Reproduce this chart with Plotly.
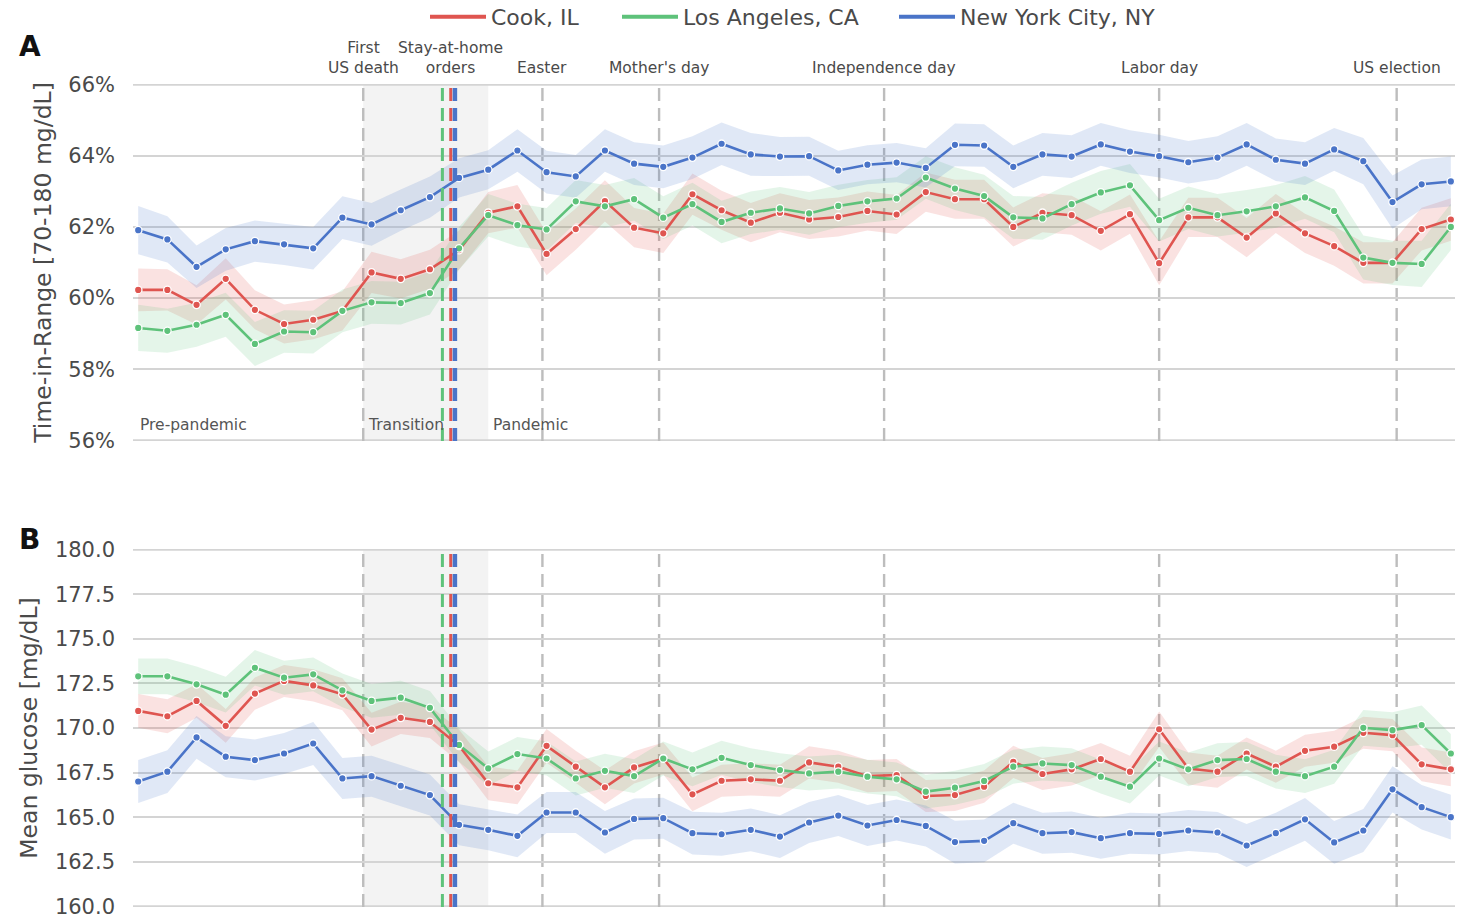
"""
plot.py -- Weekly time-in-range and mean glucose, three US counties, 2020.
"""

import pandas as pd
import plotly.graph_objects as go

# ------------------------------------------------------------------
# Data
# ------------------------------------------------------------------

weeks = pd.date_range("2020-01-06", periods=46, freq="7D")

counties = ["Cook, IL", "Los Angeles, CA", "New York City, NY"]
colors = ["#DF5550", "#5EC27A", "#4A74C8"]

# Panel A: time-in-range [%]
tir_cook = [60.23, 60.23, 59.81, 60.54, 59.67, 59.27, 59.39, 59.64, 60.72, 60.54,
            60.81, 61.35, 62.40, 62.58, 61.24, 61.94, 62.73, 61.98, 61.82, 62.92,
            62.47, 62.12, 62.40, 62.21, 62.28, 62.45, 62.35, 62.98, 62.78, 62.78,
            62.00, 62.40, 62.33, 61.89, 62.36, 60.98, 62.27, 62.27, 61.70, 62.38,
            61.82, 61.46, 60.99, 60.99, 61.94, 62.21]
tir_la = [59.16, 59.08, 59.25, 59.53, 58.71, 59.06, 59.04, 59.64, 59.88, 59.86,
          60.14, 61.40, 62.33, 62.05, 61.93, 62.72, 62.58, 62.78, 62.26, 62.64,
          62.14, 62.40, 62.52, 62.38, 62.59, 62.72, 62.80, 63.39, 63.08, 62.87,
          62.27, 62.24, 62.64, 62.97, 63.17, 62.19, 62.54, 62.33, 62.44, 62.58,
          62.83, 62.45, 61.14, 60.99, 60.96, 62.00]
tir_nyc = [61.91, 61.65, 60.88, 61.37, 61.60, 61.51, 61.40, 62.26, 62.07, 62.47,
           62.84, 63.38, 63.61, 64.15, 63.54, 63.42, 64.15, 63.78, 63.69, 63.95,
           64.34, 64.04, 63.98, 63.99, 63.59, 63.75, 63.81, 63.66, 64.31, 64.29,
           63.69, 64.04, 63.98, 64.32, 64.12, 63.99, 63.82, 63.95, 64.32, 63.89,
           63.78, 64.18, 63.85, 62.70, 63.20, 63.28]

# half-width of the shaded confidence band
tir_cook_ci = [0.60, 0.58, 0.55, 0.58, 0.55, 0.55, 0.55, 0.55, 0.58, 0.55,
               0.55, 0.55, 0.58, 0.60, 0.60, 0.58, 0.58, 0.55, 0.55, 0.58,
               0.55, 0.55, 0.55, 0.55, 0.55, 0.55, 0.55, 0.55, 0.55, 0.55,
               0.55, 0.55, 0.55, 0.55, 0.55, 0.62, 0.55, 0.55, 0.55, 0.55,
               0.55, 0.55, 0.58, 0.58, 0.60, 0.60]
tir_la_ci = [0.65, 0.62, 0.62, 0.62, 0.62, 0.60, 0.60, 0.60, 0.60, 0.60,
             0.60, 0.60, 0.60, 0.60, 0.60, 0.60, 0.60, 0.60, 0.60, 0.60,
             0.60, 0.60, 0.60, 0.60, 0.60, 0.60, 0.60, 0.60, 0.60, 0.60,
             0.60, 0.60, 0.60, 0.60, 0.60, 0.60, 0.60, 0.60, 0.60, 0.60,
             0.60, 0.60, 0.62, 0.62, 0.65, 0.65]
tir_nyc_ci = [0.68, 0.65, 0.60, 0.60, 0.58, 0.58, 0.60, 0.60, 0.60, 0.58,
              0.58, 0.55, 0.55, 0.60, 0.60, 0.60, 0.60, 0.60, 0.60, 0.60,
              0.60, 0.60, 0.55, 0.55, 0.55, 0.55, 0.55, 0.55, 0.60, 0.60,
              0.60, 0.60, 0.60, 0.60, 0.60, 0.60, 0.60, 0.60, 0.60, 0.60,
              0.60, 0.60, 0.65, 0.75, 0.70, 0.70]

# Panel B: mean glucose [mg/dL]
mg_cook = [170.96, 170.66, 171.52, 170.12, 171.93, 172.64, 172.39, 171.89, 169.91, 170.57,
           170.34, 169.00, 166.90, 166.67, 169.00, 167.83, 166.67, 167.79, 168.29, 166.28,
           167.04, 167.12, 167.04, 168.07, 167.83, 167.30, 167.36, 166.19, 166.24, 166.71,
           168.10, 167.42, 167.68, 168.26, 167.55, 169.93, 167.73, 167.55, 168.57, 167.83,
           168.72, 168.95, 169.73, 169.60, 167.96, 167.68]
mg_la = [172.90, 172.90, 172.45, 171.87, 173.38, 172.82, 173.01, 172.11, 171.52, 171.70,
         171.13, 169.05, 167.73, 168.54, 168.29, 167.17, 167.60, 167.30, 168.29, 167.68,
         168.33, 167.92, 167.64, 167.45, 167.55, 167.27, 167.12, 166.43, 166.65, 167.03,
         167.83, 168.01, 167.92, 167.27, 166.71, 168.29, 167.68, 168.20, 168.26, 167.55,
         167.30, 167.83, 170.01, 169.88, 170.16, 168.57]
mg_nyc = [167.00, 167.55, 169.47, 168.39, 168.20, 168.57, 169.13, 167.17, 167.30, 166.76,
          166.24, 164.57, 164.29, 163.95, 165.26, 165.26, 164.14, 164.90, 164.94, 164.10,
          164.04, 164.29, 163.91, 164.70, 165.09, 164.53, 164.84, 164.51, 163.60, 163.67,
          164.66, 164.10, 164.16, 163.82, 164.10, 164.06, 164.25, 164.14, 163.41, 164.10,
          164.88, 163.58, 164.25, 166.56, 165.56, 165.00]

mg_cook_ci = [0.95, 0.95, 0.95, 0.95, 0.90, 0.90, 0.90, 0.90, 0.95, 0.90,
              0.90, 0.90, 0.95, 0.95, 0.95, 0.90, 0.95, 0.90, 0.90, 0.95,
              0.90, 0.90, 0.90, 0.90, 0.90, 0.90, 0.90, 0.90, 0.90, 0.90,
              0.90, 0.90, 0.90, 0.90, 0.90, 1.00, 0.90, 0.90, 0.90, 0.90,
              0.90, 0.90, 0.90, 0.90, 0.95, 0.95]
mg_la_ci = [1.00, 1.00, 1.00, 1.00, 1.00, 0.95, 0.95, 0.95, 0.95, 0.95,
            0.95, 0.95, 0.95, 0.95, 0.95, 0.95, 0.95, 0.95, 0.95, 0.95,
            0.95, 0.95, 0.95, 0.95, 0.95, 0.95, 0.95, 0.95, 0.95, 0.95,
            0.95, 0.95, 0.95, 0.95, 0.95, 0.95, 0.95, 0.95, 0.95, 0.95,
            0.95, 0.95, 1.00, 1.00, 1.10, 1.10]
mg_nyc_ci = [1.20, 1.20, 1.20, 1.15, 1.15, 1.15, 1.20, 1.15, 1.15, 1.15,
             1.15, 1.15, 1.15, 1.20, 1.15, 1.15, 1.20, 1.15, 1.15, 1.20,
             1.20, 1.20, 1.20, 1.15, 1.15, 1.15, 1.15, 1.15, 1.20, 1.20,
             1.15, 1.15, 1.15, 1.15, 1.15, 1.15, 1.15, 1.15, 1.20, 1.15,
             1.20, 1.20, 1.20, 1.30, 1.25, 1.25]

tir_ticks = [56, 58, 60, 62, 64, 66]
tir_ticktext = ["56%", "58%", "60%", "62%", "64%", "66%"]
mg_ticks = [160, 162.5, 165, 167.5, 170, 172.5, 175, 177.5, 180]
mg_ticktext = ["160.0", "162.5", "165.0", "167.5", "170.0",
               "172.5", "175.0", "177.5", "180.0"]

# Events (gray dashed lines)
event_names = ["First<br>US death", "Easter", "Mother's day",
               "Independence day", "Labor day", "US election"]
event_dates = ["2020-02-29", "2020-04-12", "2020-05-10",
               "2020-07-03", "2020-09-07", "2020-11-03"]

# Stay-at-home orders, one per county (same order as counties)
stay_home_dates = ["2020-03-21", "2020-03-19", "2020-03-22"]
stay_home_label_date = "2020-03-21"

transition_start = "2020-02-29"
transition_end = "2020-03-30"

period_names = ["Pre-pandemic", "Transition", "Pandemic"]
period_starts = ["2020-01-06", "2020-02-29", "2020-03-30"]

# ------------------------------------------------------------------
# Figure
# ------------------------------------------------------------------

FONT = "DejaVu Sans"
TEXT = "#4a4a4a"
GRID = "#d4d4d4"
X_RANGE = ["2020-01-04 18:00", "2020-11-17 00:00"]
W, H = 1463, 919


def rgba(hex_color: str, alpha: float) -> str:
    h = hex_color.lstrip("#")
    r, g, b = int(h[0:2], 16), int(h[2:4], 16), int(h[4:6], 16)
    return f"rgba({r},{g},{b},{alpha})"


fig = go.Figure()

panels = [
    ("x", "y", [tir_cook, tir_la, tir_nyc], [tir_cook_ci, tir_la_ci, tir_nyc_ci]),
    ("x2", "y2", [mg_cook, mg_la, mg_nyc], [mg_cook_ci, mg_la_ci, mg_nyc_ci]),
]

x_list = list(weeks)
for xa, ya, series, cis in panels:
    # bands first, then lines on top
    for vals, ci, col in zip(series, cis, colors):
        upper = [v + c for v, c in zip(vals, ci)]
        lower = [v - c for v, c in zip(vals, ci)]
        fig.add_trace(go.Scatter(
            x=x_list + x_list[::-1], y=upper + lower[::-1],
            xaxis=xa, yaxis=ya, fill="toself", fillcolor=rgba(col, 0.17),
            line=dict(width=0), mode="lines", hoverinfo="skip", showlegend=False,
        ))
    for vals, col, name in zip(series, colors, counties):
        fig.add_trace(go.Scatter(
            x=x_list, y=vals, xaxis=xa, yaxis=ya, name=name,
            mode="lines+markers",
            line=dict(color=col, width=2.6),
            marker=dict(size=7.5, color=col, line=dict(color="white", width=1.3)),
            showlegend=False,
        ))

# legend-only entries (plain lines, no markers), one legend box each so the
# spacing between entries can follow the reference
legend_ids = ["legend", "legend2", "legend3"]
legend_left_px = [425, 617, 894]
for col, name, lid in zip(colors, counties, legend_ids):
    fig.add_trace(go.Scatter(
        x=[None], y=[None], mode="lines", name=name, legend=lid,
        line=dict(color=col, width=4),
    ))

# shaded transition period + event lines in both panels
for xa, ya, lims in [("x", "y", [56, 66]), ("x2", "y2", [160, 180])]:
    fig.add_shape(
        type="rect", xref=xa, yref=f"{ya} domain",
        x0=transition_start, x1=transition_end, y0=0, y1=1,
        fillcolor="#f3f3f3", line_width=0, layer="below",
    )
    # grid lines on the panel edges (plotly drops them at the range limits)
    for v in lims:
        fig.add_shape(
            type="line", xref=f"{xa} domain", yref=ya,
            x0=0, x1=1, y0=v, y1=v,
            line=dict(color=GRID, width=2), layer="below",
        )
    for d in event_dates:
        fig.add_shape(
            type="line", xref=xa, yref=f"{ya} domain",
            x0=d, x1=d, y0=0, y1=1,
            line=dict(color="#bdbdbd", width=2.4, dash="13px,7px"),
            layer="below",
        )
    for d, col, w in zip(stay_home_dates, colors, [3, 3, 4.5]):
        fig.add_shape(
            type="line", xref=xa, yref=f"{ya} domain",
            x0=d, x1=d, y0=0, y1=1,
            line=dict(color=col, width=w, dash="13px,7px"),
            layer="above",
        )

# event labels above panel A
for name, d in zip(event_names + ["Stay-at-home<br>orders"],
                   event_dates + [stay_home_label_date]):
    fig.add_annotation(
        x=d, xref="x", y=1, yref="y domain",
        text=name, showarrow=False, xanchor="center", yanchor="bottom",
        yshift=5, font=dict(family=FONT, size=15.5, color=TEXT),
    )

# period labels inside panel A
for name, d, dx in zip(period_names, period_starts, [0, 3, 3]):
    fig.add_annotation(
        x=d, xref="x", y=0.045, yref="y domain",
        text=name, showarrow=False, xanchor="left", yanchor="middle",
        xshift=dx, font=dict(family=FONT, size=15.5, color="#555555"),
    )

# panel letters
for letter, yy in [("A", 1.045), ("B", 0.446)]:
    fig.add_annotation(
        text=f"<b>{letter}</b>", xref="paper", yref="paper",
        x=-0.078, y=yy, xanchor="center", yanchor="middle",
        showarrow=False, font=dict(family=FONT, size=28, color="#111111"),
    )

axis_common = dict(
    showgrid=True, gridcolor=GRID, gridwidth=2, zeroline=False,
    showline=False, ticks="", tickfont=dict(family=FONT, size=21, color=TEXT),
    ticklabelstandoff=17, automargin=False,
)
x_common = dict(
    type="date", range=X_RANGE, showgrid=False, zeroline=False,
    showline=False, showticklabels=False, ticks="", automargin=False,
)

legend_layout = {}
for lid, px in zip(legend_ids, legend_left_px):
    legend_layout[lid] = dict(
        orientation="h", xref="container", x=px / W, xanchor="left",
        yref="container", y=(H - 17) / H, yanchor="middle",
        font=dict(family=FONT, size=22, color=TEXT),
        itemwidth=56, bgcolor="rgba(0,0,0,0)",
    )

fig.update_layout(
    width=W, height=H,
    paper_bgcolor="white", plot_bgcolor="white",
    margin=dict(l=133, r=8, t=84, b=12),
    font=dict(family=FONT, color=TEXT),
    xaxis=dict(domain=[0, 1], anchor="y", **x_common),
    xaxis2=dict(domain=[0, 1], anchor="y2", matches="x", **x_common),
    yaxis=dict(
        domain=[0.5662, 1], anchor="x", range=[55.98, 66.02],
        tickvals=tir_ticks, ticktext=tir_ticktext,
        title=dict(text="Time-in-Range [70-180 mg/dL]", standoff=10,
                   font=dict(family=FONT, size=23.5, color=TEXT)),
        **axis_common,
    ),
    yaxis2=dict(
        domain=[0, 0.435], anchor="x2", range=[159.96, 180.04],
        tickvals=mg_ticks, ticktext=mg_ticktext,
        title=dict(text="Mean glucose [mg/dL]", standoff=10,
                   font=dict(family=FONT, size=23.5, color=TEXT)),
        **axis_common,
    ),
    showlegend=True,
    **legend_layout,
)

# the page body has a default 8px margin; drop it so the figure sits at 0,0
fig.write_html(
    "out.html",
    config={"displayModeBar": False},
    post_script="document.body.style.margin = '0';",
)
